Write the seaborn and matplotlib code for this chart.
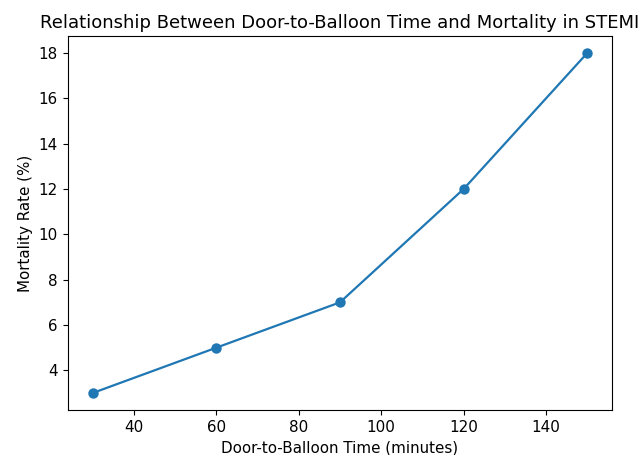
import matplotlib
matplotlib.use("Agg")
import matplotlib.pyplot as plt
import seaborn as sns
import pandas as pd

door_to_balloon = [30, 60, 90, 120, 150]
mortality_rate = [3, 5, 7, 12, 18]

df = pd.DataFrame({"x": door_to_balloon, "y": mortality_rate})

plt.rcParams["font.size"] = 10.9
fig = plt.figure(figsize=(6.42, 4.55), dpi=100)
ax = fig.add_axes([68/642, (455-410)/455, 544/642, 374/455])
sns.lineplot(data=df, x="x", y="y", marker="o", color="#1f77b4",
             markersize=7.5, markeredgewidth=0, linewidth=1.6, ax=ax)
ax.set_title("Relationship Between Door-to-Balloon Time and Mortality in STEMI", fontsize=13)
ax.set_xlabel("Door-to-Balloon Time (minutes)", fontsize=10.9)
ax.set_ylabel("Mortality Rate (%)", fontsize=10.9)
ax.set_yticks([4, 6, 8, 10, 12, 14, 16, 18])
ax.set_xticks([40, 60, 80, 100, 120, 140])
ax.tick_params(labelsize=10.9, length=3.8)
fig.savefig("out.png", dpi=100)
